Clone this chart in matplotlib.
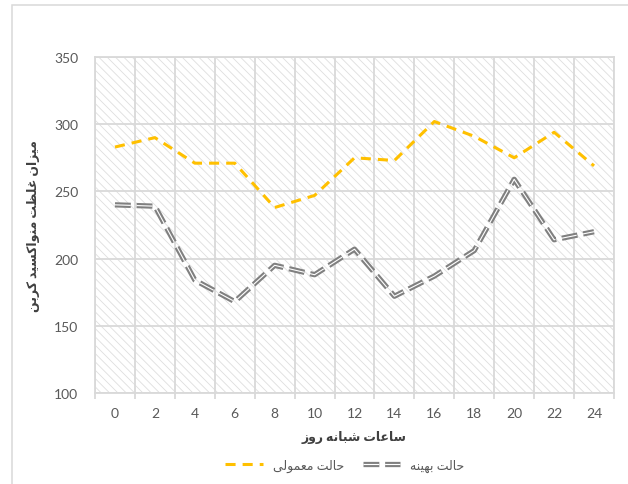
import matplotlib
matplotlib.use('Agg')
import matplotlib.pyplot as plt
from matplotlib.lines import Line2D
from matplotlib.patches import Rectangle
from matplotlib.ticker import MultipleLocator, FixedLocator

hours = ['0', '2', '4', '6', '8', '10', '12', '14', '16', '18', '20', '22', '24']
normal = [283, 290, 271, 271, 238, 247, 275, 273, 302, 291, 275, 294, 269]
optimal = [240, 239, 184, 168, 195, 188, 207, 172, 187, 206, 259, 214, 220]

label_normal = 'حالت معمولی'
label_optimal = 'حالت بهینه'
xlabel = 'ساعات شبانه روز'
ylabel = 'میزان غلظت منواکسید کربن'

# no text shaping in matplotlib -> pick presentation forms by hand, then reverse
FORMS = {
    'ا': (0xFE8D, 0xFE8E), 'ب': (0xFE8F, 0xFE90, 0xFE91, 0xFE92),
    'ت': (0xFE95, 0xFE96, 0xFE97, 0xFE98), 'ح': (0xFEA1, 0xFEA2, 0xFEA3, 0xFEA4),
    'د': (0xFEA9, 0xFEAA), 'ر': (0xFEAD, 0xFEAE), 'ز': (0xFEAF, 0xFEB0),
    'س': (0xFEB1, 0xFEB2, 0xFEB3, 0xFEB4), 'ش': (0xFEB5, 0xFEB6, 0xFEB7, 0xFEB8),
    'ظ': (0xFEC5, 0xFEC6, 0xFEC7, 0xFEC8), 'ع': (0xFEC9, 0xFECA, 0xFECB, 0xFECC),
    'غ': (0xFECD, 0xFECE, 0xFECF, 0xFED0), 'ل': (0xFEDD, 0xFEDE, 0xFEDF, 0xFEE0),
    'م': (0xFEE1, 0xFEE2, 0xFEE3, 0xFEE4), 'ن': (0xFEE5, 0xFEE6, 0xFEE7, 0xFEE8),
    'ه': (0xFEE9, 0xFEEA, 0xFEEB, 0xFEEC), 'و': (0xFEED, 0xFEEE),
    'ک': (0xFB8E, 0xFB8F, 0xFB90, 0xFB91), 'ی': (0xFBFC, 0xFBFD, 0xFBFE, 0xFBFF),
}


def shape(text):
    out = []
    for i, ch in enumerate(text):
        if ch not in FORMS:
            out.append(ch)
            continue
        prev = text[i - 1] if i > 0 else ''
        nxt = text[i + 1] if i + 1 < len(text) else ''
        f = FORMS[ch]
        jp = prev in FORMS and len(FORMS[prev]) == 4
        jn = nxt in FORMS and len(f) == 4
        if jp and jn:
            out.append(chr(f[3]))
        elif jp:
            out.append(chr(f[1]))
        elif jn:
            out.append(chr(f[2]))
        else:
            out.append(chr(f[0]))
    return ''.join(reversed(out))


plt.rcParams['font.family'] = ['Lato', 'DejaVu Sans']
plt.rcParams['hatch.linewidth'] = 0.6

fig = plt.figure(figsize=(6.28, 4.85), dpi=100)
ax = fig.add_axes([95 / 628, 91 / 485, 519 / 628, 336 / 485])

fig.patches.append(Rectangle((12 / 628, -0.1), 1.0, 1.1 - 6 / 485, transform=fig.transFigure,
                             fill=False, edgecolor='#d9d9d9', lw=1.1))

ax.add_patch(Rectangle((0, 0), 1, 1, transform=ax.transAxes, facecolor='white',
                       edgecolor='#dedede', hatch='\\\\\\\\', lw=0, zorder=0))

x = list(range(len(hours)))
ax.plot(x, normal, color='#FFC000', lw=2.2, dashes=(3.3, 2.3), dash_capstyle='butt', zorder=3)
ax.plot(x, optimal, color='#808080', lw=3.8, dashes=(3, 1.1), dash_capstyle='butt', zorder=3)
ax.plot(x, optimal, color='white', lw=0.8, dashes=(14.25, 5.2), dash_capstyle='butt', zorder=4)

ax.set_xlim(-0.5, 12.5)
ax.set_ylim(100, 350)
ax.yaxis.set_major_locator(MultipleLocator(50))
ax.set_xticks(x)
ax.set_xticklabels(hours)
ax.xaxis.set_minor_locator(FixedLocator([i - 0.5 for i in range(len(hours) + 1)]))

ax.grid(axis='y', color='#d9d9d9', lw=1.3, zorder=1)
ax.grid(axis='x', which='minor', color='#d9d9d9', lw=1.3, zorder=1)
ax.set_axisbelow(True)
for s in ax.spines.values():
    s.set_color('#d9d9d9')
    s.set_linewidth(1.3)

ax.tick_params(axis='both', which='major', length=0, labelsize=10, labelcolor='#595959')
ax.tick_params(axis='x', which='major', pad=10)
ax.tick_params(axis='y', which='major', pad=12)
ax.tick_params(axis='x', which='minor', length=4, width=1.3, color='#d9d9d9')

ax.set_xlabel(shape(xlabel), fontsize=9, fontweight='bold', color='#404040', labelpad=8)
ax.set_ylabel(shape(ylabel), fontsize=9, fontweight='bold', color='#404040', labelpad=10)

h1 = Line2D([], [], color='#FFC000', lw=2.2, dashes=(3.3, 2.3), dash_capstyle='butt')
h2a = Line2D([], [], color='#808080', lw=3.8, dashes=(3, 1.1), dash_capstyle='butt')
h2b = Line2D([], [], color='white', lw=0.8, dashes=(14.25, 5.2), dash_capstyle='butt')
fig.legend([h1, (h2a, h2b)], [shape(label_normal), shape(label_optimal)], ncol=2,
           loc='center', bbox_to_anchor=(345 / 628, 1 - 466 / 485), frameon=False,
           fontsize=9, labelcolor='#595959', handlelength=3, columnspacing=1.5)

fig.savefig('out.png', dpi=100)
